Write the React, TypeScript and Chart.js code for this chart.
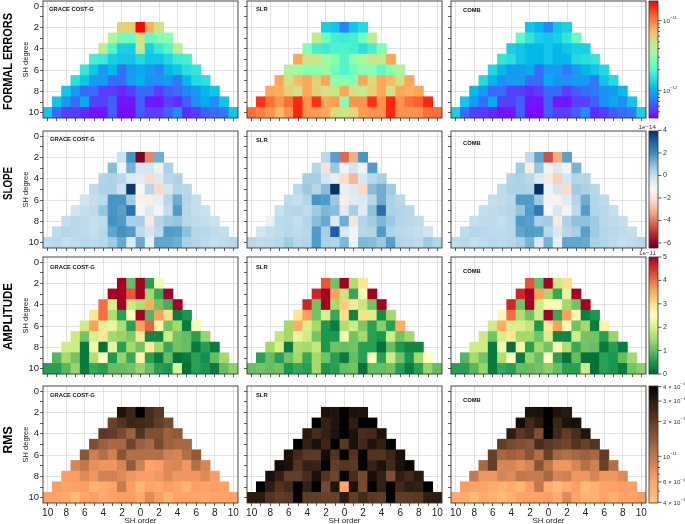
import React, { useEffect, useRef } from 'react';
import { Chart, registerables } from 'chart.js';
Chart.register(...registerables);

const FONT = 'Liberation Sans';
Chart.defaults.font.family = FONT;

// ---------- axes ----------
const ORDERS = [-10, -9, -8, -7, -6, -5, -4, -3, -2, -1, 0, 1, 2, 3, 4, 5, 6, 7, 8, 9, 10];
const DEGREE_TICKS = [0, 1, 2, 3, 4, 5, 6, 7, 8, 9, 10];
const DEGREES = [2, 3, 4, 5, 6, 7, 8, 9, 10];
const ROW_NAMES = ['FORMAL ERRORS', 'SLOPE', 'AMPLITUDE', 'RMS'];
const COL_NAMES = ['GRACE COST-G', 'SLR', 'COMB'];

// ---------- data (rows = degree 2..10, columns = order -d..d) ----------
// formal errors, units of 1e-12
const formalGrace = [
  [6, 6, 19, 7.6, 5],
  [4, 2.5, 2.5, 5, 2.2, 2.8, 3],
  [4.5, 2, 1.3, 1.3, 4.5, 1.3, 1.7, 2, 4.5],
  [1.8, 1.7, 1.3, 1.2, 1.2, 1.4, 1.2, 1.2, 1.4, 1.7, 1.8],
  [1.6, 1.2, 0.9, 1.1, 0.7, 0.9, 1.0, 0.9, 0.8, 1.1, 1.2, 1.5, 1.6],
  [1.5, 1.2, 0.9, 0.9, 0.7, 0.7, 0.9, 1.05, 0.85, 0.85, 0.9, 0.75, 1.1, 1.4, 1.5],
  [1.2, 0.9, 0.7, 0.7, 0.55, 0.55, 0.5, 0.55, 0.7, 0.7, 0.55, 0.65, 0.7, 0.8, 0.9, 1.1, 1.2],
  [1.2, 0.9, 0.7, 1.0, 0.55, 0.55, 0.65, 0.45, 0.45, 0.65, 0.45, 0.45, 0.55, 0.5, 0.65, 0.85, 1.0, 0.85, 1.2],
  [1.2, 0.7, 0.55, 0.55, 0.5, 0.45, 0.45, 0.65, 0.43, 0.43, 0.65, 0.55, 0.55, 0.65, 0.85, 0.5, 0.55, 0.65, 0.7, 0.75, 1.2],
];
const formalSlr = [
  [1.3, 1.2, 0.8, 1.2, 1.4],
  [4.5, 2.5, 1.8, 1.7, 1.8, 2.5, 4.5],
  [2.8, 1.8, 1.7, 1.9, 1.9, 1.8, 1.5, 1.8, 2.8],
  [8, 5, 5, 3.5, 3, 2, 3, 4, 5, 4.5, 8],
  [4, 3.5, 3, 3, 3.5, 2.5, 2, 2.5, 3, 3, 2.2, 3, 4],
  [8, 5, 7, 8, 6, 8, 3, 3, 3, 8, 5.5, 8, 7, 5, 8],
  [8, 7.5, 6, 5, 8, 6, 5, 5, 8, 5, 4.5, 6, 8, 5, 8, 7.5, 8],
  [15, 11, 9, 11, 16, 9, 15, 8, 8.5, 3, 9, 9, 15, 9, 16, 9, 11, 12, 16],
  [11, 10, 9, 7, 9, 16, 9, 8.5, 8, 5.5, 5, 5.5, 8.5, 9, 9, 16, 9, 9, 9, 11, 11],
];
const formalComb = [
  [1.2, 1.1, 0.8, 1.2, 1.3],
  [2.2, 1.6, 1.3, 1.2, 1.3, 1.6, 2.3],
  [1.3, 1.2, 1.1, 1.1, 1.2, 1.1, 1.2, 1.3, 1.3],
  [1.6, 1.5, 1.2, 1.1, 1.1, 1.2, 1.1, 1.1, 1.4, 1.5, 1.6],
  [1.4, 1.1, 0.9, 0.9, 1.0, 0.7, 0.9, 0.9, 0.75, 0.9, 1.1, 1.2, 1.4],
  [1.4, 1.1, 0.85, 0.9, 0.9, 0.7, 0.7, 1.0, 0.85, 0.85, 0.9, 0.9, 0.75, 1.2, 1.4],
  [1.1, 0.9, 0.7, 0.7, 0.55, 0.55, 0.5, 0.55, 0.7, 0.7, 0.55, 0.65, 0.7, 0.75, 0.85, 0.9, 1.1],
  [1.2, 0.9, 0.7, 1.0, 0.55, 0.55, 0.65, 0.45, 0.45, 0.65, 0.45, 0.45, 0.55, 0.55, 0.65, 0.85, 1.0, 0.85, 1.2],
  [1.3, 0.7, 0.55, 0.55, 0.5, 0.45, 0.45, 0.65, 0.43, 0.43, 0.65, 0.55, 0.55, 0.65, 0.85, 0.5, 0.55, 0.65, 0.7, 0.75, 1.3],
];

// slope, units of 1e-14
const slopeGrace = [
  [-0.1, 1.8, -6.2, -3.8, 1.3],
  [1.0, -1.0, 1.2, -0.4, -0.3, -1.0, 0.4],
  [0.3, 0.4, 0.2, -0.5, -0.6, -2.2, -0.5, 0.2, 0.4],
  [0.1, 0.4, 0.4, -0.1, 3.8, -1.2, 0.2, -2.3, -0.3, 0.3, 0.2],
  [-0.2, 0.0, 0.1, 1.8, 1.8, 0.6, -1.5, -1.6, -0.8, 0.2, 1.3, 0.3, 0.0],
  [-0.2, 0.0, 0.1, 0.8, 1.8, 1.6, 2.6, -1.2, -0.5, -1.1, 0.0, 1.7, 0.2, 0.0, -0.1],
  [0.0, 0.2, 0.1, 0.0, 0.1, 1.9, 1.7, 0.4, 0.5, -1.9, 0.3, 0.6, 0.8, 0.2, 0.1, 0.0, -0.1],
  [0.1, 0.3, 0.2, 0.1, 0.0, 0.2, 1.5, 1.9, 1.7, 0.1, -0.3, 0.1, 1.7, 1.6, 0.9, 0.3, 0.2, 0.1, 0.0],
  [0.1, 0.2, 0.0, 0.1, 0.2, 0.1, 0.2, 0.6, 1.4, -0.6, 1.4, -0.8, 1.5, 1.5, 1.3, 0.4, 0.3, 0.1, 0.0, 0.1, 0.2],
];
const slopeSlr = [
  [0.2, 1.6, -4.2, -3.2, 1.8],
  [0.2, -2.0, 0.7, -1.1, -0.3, -1.0, 1.7],
  [0.5, 0.5, -0.3, -0.8, -2.2, -3.0, -0.4, 0.2, 0.5],
  [0.2, 0.7, 0.3, 1.0, 3.9, -0.8, -0.5, -2.3, 1.0, 1.3, 0.6],
  [0.1, 0.0, 0.3, 1.8, 1.7, 0.7, -1.6, -0.6, -0.5, 0.2, 1.3, 0.4, 0.2],
  [-0.1, 0.2, 0.3, 0.1, 0.6, 1.1, 1.0, -0.6, 0.5, -0.6, 0.9, 2.7, 0.4, 0.3, 0.2],
  [-0.9, 0.1, 0.2, 0.0, 0.3, 1.0, 1.4, -0.5, 1.3, -2.0, 0.3, 0.6, 1.1, 0.7, 0.3, 0.2, 0.1],
  [-0.3, 0.0, 0.1, 0.2, 0.1, 0.2, 1.7, 0.5, 3.0, -0.4, -1.1, 0.2, 0.3, 1.7, 0.4, 0.2, 0.1, 0.0, -0.2],
  [0.2, 0.1, 0.1, 0.2, 0.6, 0.2, 0.3, 1.7, 0.4, 0.3, 1.1, -1.0, 1.1, 1.0, 0.7, 1.6, 0.3, 0.2, 0.1, 0.6, 0.3],
];
const slopeComb = [
  [0.1, 1.5, -4.6, -3.2, 1.6],
  [0.6, -1.6, 0.8, -1.0, -0.5, -1.1, 1.2],
  [0.3, 0.4, 0.2, -0.5, -1.8, -2.5, -0.3, 0.3, 0.3],
  [0.1, 0.4, 0.4, 0.3, 3.9, -1.0, -0.3, -2.2, 0.6, 0.4, 0.2],
  [0.0, 0.1, 0.2, 1.7, 1.7, 0.6, -1.5, -1.5, -0.6, 0.3, 1.3, 0.3, 0.1],
  [0.0, 0.1, 0.2, 0.3, 0.8, 1.7, 2.5, -1.2, -0.4, -1.1, 0.1, 1.7, 0.3, 0.2, 0.0],
  [0.0, 0.1, 0.1, 0.0, 0.2, 1.7, 1.6, 0.4, 0.6, -1.8, 0.4, 0.9, 0.9, 0.6, 0.2, 0.1, 0.0],
  [0.1, 0.3, 0.2, 0.1, 0.1, 0.2, 1.5, 1.7, 1.6, 0.2, -0.4, 0.2, 0.5, 1.6, 0.6, 0.3, 0.2, 0.1, 0.0],
  [0.1, 0.2, 0.0, 0.1, 0.2, 0.1, 0.2, 0.5, 1.2, -0.5, 1.2, -0.8, 1.5, 1.5, 1.4, 0.4, 0.3, 0.1, 0.0, 0.1, 0.2],
];

// amplitude, units of 1e-11
const ampGrace = [
  [5.0, 1.0, 5.0, 0.6, 2.4],
  [5.0, 5.0, 4.2, 5.0, 1.5, 0.7, 5.0],
  [4.0, 2.0, 5.0, 1.9, 1.6, 3.5, 1.1, 0.8, 5.0],
  [2.9, 4.0, 1.6, 0.6, 2.5, 5.0, 0.9, 3.6, 3.0, 0.2, 0.5],
  [1.9, 3.6, 2.1, 2.2, 1.6, 0.6, 3.6, 4.1, 2.7, 1.1, 1.5, 0.2, 2.4],
  [1.9, 1.1, 2.0, 2.9, 1.5, 1.4, 1.2, 2.9, 0.3, 0.3, 1.9, 1.1, 1.0, 0.6, 1.4],
  [1.9, 1.9, 0.2, 2.3, 0.1, 2.2, 0.6, 1.5, 1.1, 2.8, 1.5, 0.7, 1.1, 1.0, 0.2, 0.6, 0.2],
  [0.9, 1.5, 1.1, 0.2, 1.6, 2.5, 0.5, 1.4, 0.7, 2.7, 0.6, 0.2, 1.0, 0.1, 0.2, 0.6, 0.4, 1.0, 1.5],
  [0.6, 0.6, 0.9, 1.4, 0.2, 0.7, 0.6, 1.0, 1.0, 1.1, 1.4, 1.0, 0.6, 0.5, 2.1, 0.1, 0.6, 0.5, 0.2, 1.0, 1.3],
];
const ampSlr = [
  [4.2, 1.1, 5.0, 1.6, 2.9],
  [4.6, 5.0, 3.6, 1.8, 0.7, 2.4, 5.0],
  [4.6, 1.1, 5.0, 1.5, 3.2, 2.9, 1.8, 1.1, 5.0],
  [2.9, 3.6, 1.1, 2.0, 0.7, 3.0, 0.3, 3.0, 2.0, 0.4, 1.5],
  [1.5, 3.5, 2.0, 1.5, 0.5, 0.2, 1.6, 1.9, 1.2, 0.6, 1.3, 0.6, 3.5],
  [1.8, 1.5, 2.2, 1.9, 1.1, 0.5, 0.5, 2.3, 1.1, 1.5, 0.6, 0.5, 1.9, 1.1, 1.5],
  [1.5, 2.0, 0.2, 1.6, 1.5, 1.8, 0.5, 1.1, 1.0, 1.1, 0.6, 0.6, 0.1, 1.0, 0.5, 0.3, 0.3],
  [0.6, 1.0, 0.6, 1.1, 1.5, 0.7, 1.5, 1.1, 0.6, 0.2, 1.0, 0.6, 2.5, 0.6, 1.9, 1.1, 0.5, 1.5, 2.5],
  [1.0, 1.1, 1.0, 1.1, 0.5, 0.7, 0.6, 1.5, 0.5, 0.6, 1.0, 1.1, 0.1, 1.0, 1.0, 1.1, 0.6, 0.2, 0.6, 1.4, 1.0],
];
const ampComb = [
  [4.2, 1.0, 5.0, 1.9, 3.0],
  [4.6, 5.0, 3.6, 1.5, 0.7, 2.2, 5.0],
  [4.6, 1.1, 5.0, 1.9, 2.6, 2.4, 1.5, 1.1, 5.0],
  [2.6, 4.0, 1.6, 1.1, 1.9, 5.0, 0.7, 3.6, 2.6, 0.2, 0.5],
  [1.9, 3.5, 2.0, 2.0, 1.8, 0.5, 2.9, 3.6, 2.6, 1.1, 1.5, 0.2, 2.7],
  [1.9, 1.1, 2.0, 2.9, 1.5, 1.5, 1.1, 2.0, 0.3, 0.3, 1.9, 1.1, 1.1, 0.6, 1.4],
  [1.9, 1.9, 0.2, 2.3, 0.1, 2.3, 0.6, 1.5, 1.1, 2.6, 1.6, 0.7, 1.1, 1.0, 0.2, 0.6, 0.2],
  [0.9, 1.5, 1.1, 0.2, 1.6, 2.5, 0.2, 1.4, 1.0, 2.5, 0.6, 0.1, 1.0, 0.1, 0.1, 0.6, 0.5, 1.0, 1.5],
  [0.6, 0.6, 0.9, 1.4, 0.2, 0.7, 0.6, 1.0, 1.0, 1.1, 1.3, 1.0, 0.6, 0.6, 1.9, 0.1, 0.6, 0.5, 0.2, 1.1, 1.3],
];

// rms, units of 1e-12
const rmsGrace = [
  [33, 26, 40, 24, 21],
  [19, 22, 26, 25, 24, 20, 17],
  [21, 20, 17, 13, 22, 16, 16, 13, 14],
  [16, 13, 12, 12, 18, 13, 12, 17, 13, 12, 12],
  [15, 9, 11, 9, 15, 11, 11, 11, 11, 9, 8.5, 11, 14],
  [8.5, 10, 7.5, 7, 7, 8.5, 14, 9, 6, 6.5, 8, 8.5, 7, 11, 8.5],
  [6.5, 6.5, 8, 7, 9, 9, 8, 7, 6.5, 6.5, 7, 8, 7, 7, 7, 8, 6.5],
  [6.5, 6, 6, 6.5, 5, 5.5, 6, 9.5, 6.5, 4.8, 6, 5.5, 6.5, 6, 5, 6.5, 6, 6.5, 6],
  [6, 6, 5.5, 4.5, 6, 6.5, 5.5, 6, 6.5, 6.5, 5.5, 8, 6.5, 5, 6, 6, 6, 5.5, 6, 6, 6],
];
const rmsSlr = [
  [33, 32, 40, 33, 32],
  [40, 28, 32, 40, 29, 40, 40],
  [30, 24, 28, 33, 40, 33, 24, 25, 33],
  [40, 28, 33, 26, 40, 21, 33, 25, 32, 28, 40],
  [33, 25, 21, 21, 35, 22, 40, 22, 40, 22, 22, 26, 34],
  [35, 33, 22, 28, 27, 40, 20, 22, 21, 40, 27, 33, 25, 33, 38],
  [34, 28, 20, 20, 24, 33, 22, 18, 40, 24, 17, 34, 28, 16, 29, 25, 30],
  [40, 29, 22, 25, 40, 28, 40, 17, 32, 6, 33, 17, 40, 28, 40, 25, 29, 28, 40],
  [30, 30, 22, 20, 21, 40, 20, 20, 19, 19, 30, 20, 25, 21, 20, 40, 20, 20, 21, 29, 29],
];
const rmsComb = [
  [32, 33, 40, 32, 30],
  [35, 25, 30, 40, 26, 33, 34],
  [29, 21, 24, 16, 40, 25, 20, 24, 32],
  [20, 17, 16, 15, 24, 21, 19, 18, 22, 19, 22],
  [19, 12, 13, 12, 15, 11, 19, 12, 11, 12, 13, 12, 20],
  [12, 20, 8.5, 8.5, 7.5, 8.5, 15, 10, 7, 7, 8.5, 11, 9, 19, 11],
  [10, 7, 7, 8.5, 8, 10, 9.5, 9.5, 12, 8.5, 9, 7, 7, 8.5, 7, 7, 8],
  [6.5, 6, 6, 5.5, 5, 5.5, 4.8, 6.5, 10, 5.5, 4.5, 5.5, 6.5, 4.5, 5, 6, 6, 6.5, 6],
  [5.5, 5.5, 4.5, 5.5, 5, 4.5, 5, 6, 6, 6, 6.5, 5.5, 8, 6, 5, 5, 6, 5, 6, 6, 6.5],
];

const PANEL_DATA = [
  [formalGrace, formalSlr, formalComb],
  [slopeGrace, slopeSlr, slopeComb],
  [ampGrace, ampSlr, ampComb],
  [rmsGrace, rmsSlr, rmsComb],
];

// ---------- colour maps ----------
type RGB = [number, number, number];
const hex = (h: string): RGB => [parseInt(h.slice(1, 3), 16), parseInt(h.slice(3, 5), 16), parseInt(h.slice(5, 7), 16)];
const RDBU = ['#67001f', '#b2182b', '#d6604d', '#f4a582', '#fddbc7', '#f7f7f7', '#d1e5f0', '#92c5de', '#4393c3', '#2166ac', '#053061'].map(hex);
const RDYLGN_R = ['#006837', '#1a9850', '#66bd63', '#a6d96a', '#d9ef8b', '#ffffbf', '#fee08b', '#fdae61', '#f46d43', '#d73027', '#a50026'].map(hex);
const clamp01 = (t: number) => Math.max(0, Math.min(1, t));
const rgbStr = (r: number, g: number, b: number) => `rgb(${Math.round(r)},${Math.round(g)},${Math.round(b)})`;
function listMap(stops: RGB[]) {
  return (t: number) => {
    const p = clamp01(t) * (stops.length - 1);
    const i = Math.min(stops.length - 2, Math.floor(p));
    const f = p - i;
    const a = stops[i], b = stops[i + 1];
    return rgbStr(a[0] + (b[0] - a[0]) * f, a[1] + (b[1] - a[1]) * f, a[2] + (b[2] - a[2]) * f);
  };
}
function rainbow(t: number) {
  t = clamp01(t);
  return rgbStr(255 * Math.min(1, Math.abs(2 * t - 0.5)), 255 * Math.sin(Math.PI * t), 255 * Math.cos((Math.PI * t) / 2));
}
function copperR(t: number) {
  const x = 1 - clamp01(t);
  return rgbStr(255 * Math.min(1, 1.25 * x), 255 * 0.7812 * x, 255 * 0.4975 * x);
}

const ROW_SCALES = [
  { kind: 'log', min: 0.407, max: 19.1, cmap: rainbow },
  { kind: 'lin', min: -6.45, max: 3.95, cmap: listMap(RDBU) },
  { kind: 'lin', min: 0, max: 5, cmap: listMap(RDYLGN_R) },
  { kind: 'log', min: 3.95, max: 40.5, cmap: copperR },
];
function normOf(r: number, v: number) {
  const s = ROW_SCALES[r];
  if (s.kind === 'log') return (Math.log10(v) - Math.log10(s.min)) / (Math.log10(s.max) - Math.log10(s.min));
  return (v - s.min) / (s.max - s.min);
}

// colourbar ticks
const CB_TICKS = [
  [0.5, 0.6, 0.7, 0.8, 0.9, 1, 2, 3, 4, 5, 6, 7, 8, 9, 10],
  [-6, -4, -2, 0, 2, 4],
  [0, 1, 2, 3, 4, 5],
  [4, 5, 6, 7, 8, 9, 10, 20, 30, 40],
];
const CB_LABELS: { v: number; m: string; e: string; plain?: string }[][] = [
  [{ v: 10, m: '', e: '\u221211' }, { v: 1, m: '', e: '\u221212' }],
  [4, 2, 0, -2, -4, -6].map((v) => ({ v, m: '', e: '', plain: v < 0 ? '\u2212' + Math.abs(v) : String(v) })),
  [5, 4, 3, 2, 1, 0].map((v) => ({ v, m: '', e: '', plain: String(v) })),
  [
    { v: 40, m: '4 \u00d7 ', e: '\u221211' },
    { v: 30, m: '3 \u00d7 ', e: '\u221211' },
    { v: 20, m: '2 \u00d7 ', e: '\u221211' },
    { v: 10, m: '', e: '\u221211' },
    { v: 6, m: '6 \u00d7 ', e: '\u221212' },
    { v: 4, m: '4 \u00d7 ', e: '\u221212' },
  ],
];
const CB_OFFSET = ['', '1e\u221214', '1e\u221211', ''];

// ---------- layout ----------
const W = 685, H = 524;
const COL_L = [43, 247, 451];
const PW = 195;
const ROW_T = [1, 131, 257, 386];
const PH = 117;
const CB_L = 649, CB_W = 9;
const CB_CANVAS_L = 620;
const TITLE_POS = [
  [[6, 8.5], [9, 8.5], [12, 9.5]],
  [[7, 8.5], [9, 9], [12, 12]],
  [[7, 10], [9, 10], [12, 14]],
  [[7, 9], [9, 9], [12, 14]],
];
const ROW_LABEL_W = [97, 33, 67, 27];
const ROW_LABEL_Y = [61.5, 183.5, 316.5, 440];
const GRID = 'rgba(190,190,190,0.55)';
const AXC = '#333';

function txt(ctx: CanvasRenderingContext2D, s: string, x: number, y: number, font: string, align: CanvasTextAlign, rot = 0, color = '#111', width = 0) {
  ctx.save();
  ctx.translate(x, y);
  if (rot) ctx.rotate(rot);
  ctx.font = font;
  ctx.fillStyle = color;
  ctx.textAlign = align;
  ctx.textBaseline = 'middle';
  if (width) {
    const w = ctx.measureText(s).width;
    ctx.scale(width / w, 1);
  }
  ctx.fillText(s, 0, 0);
  ctx.restore();
}

function cellsOf(rows: number[][]) {
  const out: { x: number; y: [number, number]; v: number }[] = [];
  rows.forEach((row, i) => {
    const d = DEGREES[i];
    row.forEach((v, j) => out.push({ x: ORDERS[10 - d + j], y: [d - 0.5, d + 0.5], v }));
  });
  return out;
}

type Spec = { x: number; y: number; w: number; h: number; config: any };

function panelSpec(r: number, c: number): Spec {
  const L = COL_L[c], T = ROW_T[r];
  const ML = c === 0 ? L : 12, MT = 12, MR = 12;
  const MB = r === 3 ? H - (T + PH) : 12;
  const yW = c === 0 ? 16 : 4;
  const xH = r === 3 ? MB : 4;
  const ox = L - ML, oy = T - MT;
  const gridColor = (ctx: any) => (ctx.tick && ctx.tick.value % 2 === 0 ? GRID : 'rgba(0,0,0,0)');
  const deco = {
    id: 'deco' + r + c,
    afterDraw(chart: any) {
      const ctx = chart.ctx as CanvasRenderingContext2D;
      const a = chart.chartArea;
      ctx.save();
      ctx.strokeStyle = AXC;
      ctx.lineWidth = 0.9;
      ctx.strokeRect(a.left, a.top, a.right - a.left, a.bottom - a.top);
      ctx.restore();
      const tp = TITLE_POS[r][c];
      txt(ctx, COL_NAMES[c], a.left + tp[0], a.top + tp[1], `bold 5.8px ${FONT}`, 'left', 0, '#111');
      if (c === 0) {
        const midY = (a.top + a.bottom) / 2;
        txt(ctx, ROW_NAMES[r], 9 - ox, ROW_LABEL_Y[r] - oy, `bold 12px ${FONT}`, 'center', -Math.PI / 2, '#000', ROW_LABEL_W[r]);
        txt(ctx, 'SH degree', 25.5 - ox, midY, `7.5px ${FONT}`, 'center', -Math.PI / 2, '#222');
      }
      if (r === 3) {
        txt(ctx, 'SH order', (a.left + a.right) / 2, 520.5 - oy, `8px ${FONT}`, 'center', 0, '#222');
      }
    },
  };
  const config = {
    type: 'bar',
    data: {
      datasets: [
        {
          data: cellsOf(PANEL_DATA[r][c]),
          backgroundColor: (ctx: any) => (ctx.raw ? ROW_SCALES[r].cmap(normOf(r, ctx.raw.v)) : 'rgba(0,0,0,0)'),
          borderWidth: 0,
          barPercentage: 1,
          categoryPercentage: 1,
          grouped: false,
        },
      ],
    },
    options: {
      animation: false,
      responsive: false,
      events: [],
      layout: { padding: { left: ML - yW, top: MT, right: MR, bottom: MB - xH } },
      plugins: { legend: { display: false }, tooltip: { enabled: false } },
      scales: {
        x: {
          type: 'linear',
          min: -10.5,
          max: 10.5,
          offset: false,
          z: 1,
          afterBuildTicks: (s: any) => {
            s.ticks = ORDERS.map((v) => ({ value: v }));
          },
          afterFit: (s: any) => {
            s.height = xH;
          },
          grid: { color: gridColor, lineWidth: 0.8, drawOnChartArea: true, drawTicks: true, tickLength: 3, tickColor: AXC, tickWidth: 0.8, offset: false },
          border: { display: false },
          ticks: {
            display: r === 3,
            autoSkip: false,
            maxRotation: 0,
            padding: 1,
            color: '#222',
            font: { family: FONT, size: 10 },
            callback: (v: number) => (v % 2 === 0 ? String(Math.abs(v)) : ''),
          },
        },
        y: {
          type: 'linear',
          reverse: true,
          min: -0.5,
          max: 10.5,
          z: 1,
          afterBuildTicks: (s: any) => {
            s.ticks = DEGREE_TICKS.map((v) => ({ value: v }));
          },
          afterFit: (s: any) => {
            s.width = yW;
          },
          grid: { color: gridColor, lineWidth: 0.8, drawOnChartArea: true, drawTicks: true, tickLength: 3, tickColor: AXC, tickWidth: 0.8 },
          border: { display: false },
          ticks: {
            display: c === 0,
            autoSkip: false,
            padding: 1,
            color: '#222',
            font: { family: FONT, size: 9.5 },
            callback: (v: number) => (v % 2 === 0 ? String(v) : ''),
          },
        },
      },
    },
    plugins: [deco],
  };
  return { x: ox, y: oy, w: PW + ML + MR, h: PH + MT + MB, config };
}

function colorbarSpec(r: number): Spec {
  const T = ROW_T[r];
  const ML = CB_L - CB_CANVAS_L, MT = 12, MB = 12;
  const axisW = W - (CB_L + CB_W);
  const s = ROW_SCALES[r];
  const ox = CB_CANVAS_L, oy = T - MT;
  const bar = {
    id: 'cb' + r,
    afterDraw(chart: any) {
      const ctx = chart.ctx as CanvasRenderingContext2D;
      const a = chart.chartArea;
      const ys = chart.scales.y;
      for (let py = Math.floor(a.top); py < a.bottom; py++) {
        const v = ys.getValueForPixel(py + 0.5);
        ctx.fillStyle = s.cmap(normOf(r, v));
        ctx.fillRect(a.left, py, a.right - a.left, 1);
      }
      ctx.save();
      ctx.strokeStyle = AXC;
      ctx.lineWidth = 0.8;
      ctx.strokeRect(a.left, a.top, a.right - a.left, a.bottom - a.top);
      ctx.beginPath();
      for (const t of CB_TICKS[r]) {
        const py = ys.getPixelForValue(t);
        const major = CB_LABELS[r].some((l) => l.v === t);
        ctx.moveTo(a.right, py);
        ctx.lineTo(a.right + (major ? 3.5 : 2), py);
      }
      ctx.stroke();
      ctx.restore();
      const lx = a.right + 5;
      for (const l of CB_LABELS[r]) {
        const py = ys.getPixelForValue(l.v);
        if (l.plain !== undefined) {
          txt(ctx, l.plain, lx, py, `7px ${FONT}`, 'left', 0, '#333');
        } else {
          ctx.save();
          ctx.font = `6.2px ${FONT}`;
          const base = l.m + '10';
          const bw = ctx.measureText(base).width;
          ctx.restore();
          txt(ctx, base, lx, py + 0.5, `6.2px ${FONT}`, 'left', 0, '#333');
          txt(ctx, l.e, lx + bw, py - 2.5, `4.4px ${FONT}`, 'left', 0, '#333');
        }
      }
      if (CB_OFFSET[r]) {
        txt(ctx, CB_OFFSET[r], a.right - 2, a.top - 4, `6.2px ${FONT}`, 'right', 0, '#333');
      }
    },
  };
  const config = {
    type: 'bar',
    data: { datasets: [] },
    options: {
      animation: false,
      responsive: false,
      events: [],
      layout: { padding: { left: ML, top: MT, right: 0, bottom: MB } },
      plugins: { legend: { display: false }, tooltip: { enabled: false } },
      scales: {
        x: { display: false },
        y: {
          type: s.kind === 'log' ? 'logarithmic' : 'linear',
          position: 'right',
          min: s.min,
          max: s.max,
          afterFit: (sc: any) => {
            sc.width = axisW;
          },
          grid: { display: false },
          border: { display: false },
          ticks: { display: false },
        },
      },
    },
    plugins: [bar],
  };
  return { x: ox, y: oy, w: W - ox, h: PH + MT + MB, config };
}

const SPECS: Spec[] = [];
for (let r = 0; r < 4; r++) {
  for (let c = 0; c < 3; c++) SPECS.push(panelSpec(r, c));
  SPECS.push(colorbarSpec(r));
}

export default function App() {
  const refs = useRef<(HTMLCanvasElement | null)[]>([]);
  useEffect(() => {
    document.body.style.margin = '0';
    const charts = SPECS.map((s, i) => new Chart(refs.current[i] as HTMLCanvasElement, s.config));
    return () => charts.forEach((ch) => ch.destroy());
  }, []);
  return (
    <div style={{ position: 'relative', width: W, height: H, overflow: 'hidden', background: '#fff' }}>
      {SPECS.map((s, i) => (
        <canvas
          key={i}
          ref={(el) => {
            refs.current[i] = el;
          }}
          width={s.w}
          height={s.h}
          style={{ position: 'absolute', left: s.x, top: s.y, width: s.w, height: s.h }}
        />
      ))}
    </div>
  );
}
